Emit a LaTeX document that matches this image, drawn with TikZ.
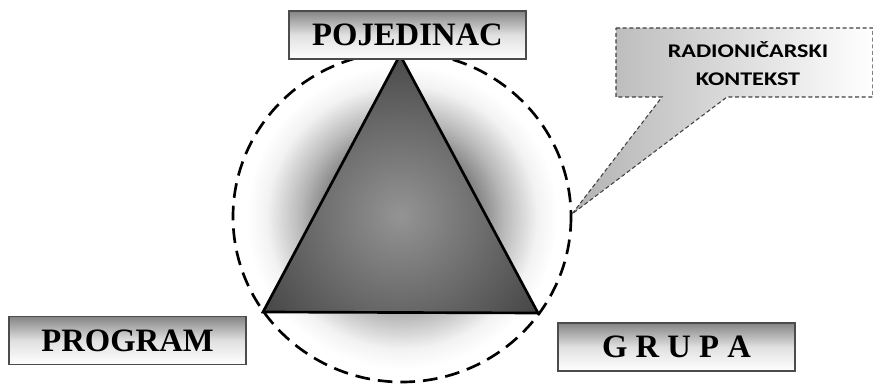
\documentclass[tikz,border=0pt]{standalone}
\usepackage{fontspec}
\setmainfont{Liberation Serif}
\newfontfamily\calloutfont[FakeStretch=1.25]{Carlito}
\pgfdeclareradialshading{glowshade}{\pgfpoint{0bp}{0bp}}{color(0bp)=(black!62); color(10bp)=(black!56); color(15bp)=(black!28); color(20bp)=(black!5); color(23bp)=(white); color(50bp)=(white)}
\tikzset{
  labelbox/.style={draw={black!70}, line width=1.2pt, top color={black!48}, bottom color=white, middle color={black!12}, minimum height=36pt, inner sep=0pt, font=\fontsize{24.5}{27}\selectfont\bfseries},
  ringline/.style={draw=black, line width=2pt, dash pattern=on 11pt off 6pt},
  triline/.style={draw=black, line width=2pt, line join=miter},
  calloutline/.style={draw={black!75}, line width=0.8pt, dash pattern=on 3pt off 2pt}
}
\begin{document}
\begin{tikzpicture}[x=0.75pt, y=-0.75pt]
\useasboundingbox (0,0) rectangle (873,384);
% glow ring
\path[shading=glowshade] (402,217) ellipse [x radius=169, y radius=165];
% triangle
\coordinate (top) at (400,55);
\coordinate (bl) at (263,312);
\coordinate (br) at (538,313);
\begin{scope}
  \clip (top) -- (bl) -- (br) -- cycle;
  \shade[inner color={black!42}, outer color={black!74}] (400,215) circle [radius=175];
\end{scope}
\draw[triline] (top) -- (bl) -- (br) -- cycle;
\draw[ringline] (402,217) ellipse [x radius=169, y radius=165];
% callout
\coordinate (tip) at (572,214);
\path[calloutline, left color={black!30}, right color=white]
  (616,28) -- (873,28) -- (873,97) -- (727,97) -- (tip) -- (662,97) -- (616,97) -- cycle;
\node[font=\calloutfont\fontsize{14.5}{21}\selectfont\bfseries, align=center] (ctx) at (748,64) {RADIONIČARSKI\\KONTEKST};
% label boxes
\node[labelbox, minimum width=177.75pt] (poj) at (407.5,35) {POJEDINAC};
\node[labelbox, minimum width=177.75pt] (prog) at (127.5,340.5) {PROGRAM};
\node[labelbox, minimum width=177.75pt] (grupa) at (676.5,347) {G R U P A};
\end{tikzpicture}
\end{document}
